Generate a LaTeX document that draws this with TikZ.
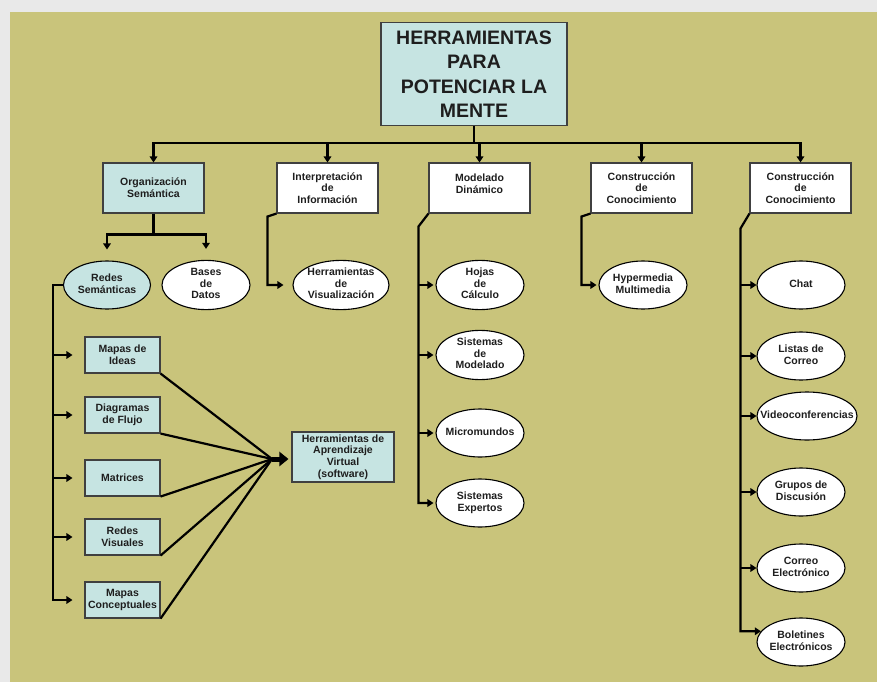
\documentclass[tikz,border=0pt]{standalone}
\usepackage{fontspec}
\setmainfont{Liberation Sans}
\usetikzlibrary{arrows.meta,shapes.geometric}
\definecolor{pagegray}{HTML}{E9E9E9}
\definecolor{khaki}{HTML}{C9C47B}
\definecolor{paleblue}{HTML}{C6E4E2}
\definecolor{ink}{HTML}{1E1E1E}
% text of an oval: width-less, so the ellipse keeps its given size
\newcommand\ovaltext[1]{\makebox[0pt]{\begin{tabular}{@{}c@{}}#1\end{tabular}}}
\begin{document}
\begin{tikzpicture}[x=1pt,y=-1pt,
  every node/.style={font=\fontsize{10.5}{11.6}\selectfont\bfseries, text=ink, inner sep=0pt},
  box/.style={rectangle, draw=ink!85, line width=1.1pt, fill=white, align=center},
  bluebox/.style={box, fill=paleblue},
  topbox/.style={box, minimum width=101pt, minimum height=50pt},
  leafbox/.style={bluebox, minimum width=75pt, minimum height=36pt},
  oval/.style={ellipse, draw=black, line width=1.1pt, fill=white,
    minimum width=88pt, minimum height=48pt},
  conn/.style={draw=black, line width=2.2pt},
  arr/.style={conn, -{Triangle[length=6pt,width=7.5pt]}},
  fatarr/.style={draw=black, line width=5pt, -{Triangle[length=9pt,width=14pt]}},
]
\useasboundingbox (0,0) rectangle (877,682);
\fill[pagegray] (0,0) rectangle (877,682);
\fill[khaki] (10,12) rectangle (877,682);

% root
\node[bluebox, minimum width=186pt, minimum height=103pt,
      font=\fontsize{19.5}{24.5}\selectfont\bfseries] (title) at (474,74)
  {HERRAMIENTAS\\PARA\\POTENCIAR LA\\MENTE};

% second level
\node[topbox, fill=paleblue] (org) at (153.5,188) {Organización\\Semántica};
\node[topbox] (interp) at (327.5,188) {Interpretación\\de\\Información};
\node[topbox] (model)  at (479.5,188) {Modelado\\Dinámico\\[-2.6pt]\mbox{}};
\node[topbox] (cons1)  at (641.5,188) {Construcción\\de\\Conocimiento};
\node[topbox] (cons2)  at (800.5,188) {Construcción\\de\\Conocimiento};

% bus from the root
\coordinate (busy) at (0,143);
\foreach \n in {org,interp,model,cons1,cons2}
  \draw[arr] (title.south) |- (busy -| \n.north) -- (\n.north);

% Organizacion Semantica
\node[oval, fill=paleblue, minimum width=87pt] (redes) at (107,285) {\ovaltext{Redes\\Semánticas}};
\node[oval] (bases) at (206,285) {\ovaltext{Bases\\de\\Datos}};
\draw[conn] (org.south) -- ++(0,21) coordinate (osplit);
\draw[arr, shorten >=11pt] (osplit) -| (redes.north);
\draw[arr, shorten >=11pt] (osplit) -| (bases.north);

% techniques under Redes Semanticas
\node[leafbox] (mideas) at (122.5,355) {Mapas de\\Ideas};
\node[leafbox] (diag)   at (122.5,415) {Diagramas\\de Flujo};
\node[leafbox] (matr)   at (122.5,478) {Matrices};
\node[leafbox] (rvis)   at (122.5,537) {Redes\\Visuales};
\node[leafbox] (mconc)  at (122.5,600) {Mapas\\Conceptuales};
\draw[arr, shorten >=12pt] (redes.west) -- ++(-10,0) coordinate (lspine) |- (mconc.west);
\foreach \n in {mideas,diag,matr,rvis}
  \draw[arr, shorten >=12pt] (lspine |- \n.west) -- (\n.west);

% virtual learning tools
\node[bluebox, minimum width=102pt, minimum height=50pt] (harv) at (343,457)
  {Herramientas de\\Aprendizaje\\Virtual\\(software)};
\coordinate (hub) at (272,459);
\foreach \n in {mideas,diag,matr,rvis,mconc}
  \draw[conn] (\n.south east) -- (hub);
\draw[fatarr, shorten >=3pt] (hub) -- (hub -| harv.west);

% Interpretacion de Informacion
\node[oval, minimum width=96pt] (vis) at (341,285) {\ovaltext{Herramientas\\de\\Visualización}};
\draw[arr, shorten >=9pt] (interp.south west) -- ++(-9,3) |- (vis.west);

% Modelado Dinamico
\node[oval] (hojas)  at (480,285) {\ovaltext{Hojas\\de\\Cálculo}};
\node[oval] (sismod) at (480,355) {\ovaltext{Sistemas\\de\\Modelado}};
\node[oval] (micro)  at (480,433) {\ovaltext{Micromundos}};
\node[oval] (sisexp) at (480,503) {\ovaltext{Sistemas\\Expertos}};
\draw[arr, shorten >=2pt] (model.south west) -- ++(-10,13) coordinate (mspine) |- (sisexp.west);
\foreach \n in {hojas,sismod,micro}
  \draw[arr, shorten >=2pt] (mspine |- \n.west) -- (\n.west);

% Construccion de Conocimiento (1)
\node[oval] (hyper) at (643,285) {\ovaltext{Hypermedia\\Multimedia}};
\draw[arr, shorten >=2pt] (cons1.south west) -- ++(-9,3) |- (hyper.west);

% Construccion de Conocimiento (2)
\node[oval] (chat)   at (801,285) {\ovaltext{Chat}};
\node[oval] (listas) at (801,356) {\ovaltext{Listas de\\Correo}};
\node[oval, minimum width=100pt] (video) at (807,416) {\ovaltext{Videoconferencias}};
\node[oval] (grupos) at (801,492) {\ovaltext{Grupos de\\Discusión}};
\node[oval] (correo) at (801,568) {\ovaltext{Correo\\Electrónico}};
\node[oval] (bolet)  at (801,642) {\ovaltext{Boletines\\Electrónicos}};
\draw[arr] (cons2.south west) -- ++(-9,15) coordinate (cspine) |- (bolet.165);
\foreach \n in {chat,listas,video,grupos,correo}
  \draw[arr] (cspine |- \n.west) -- (\n.west);
\end{tikzpicture}
\end{document}
